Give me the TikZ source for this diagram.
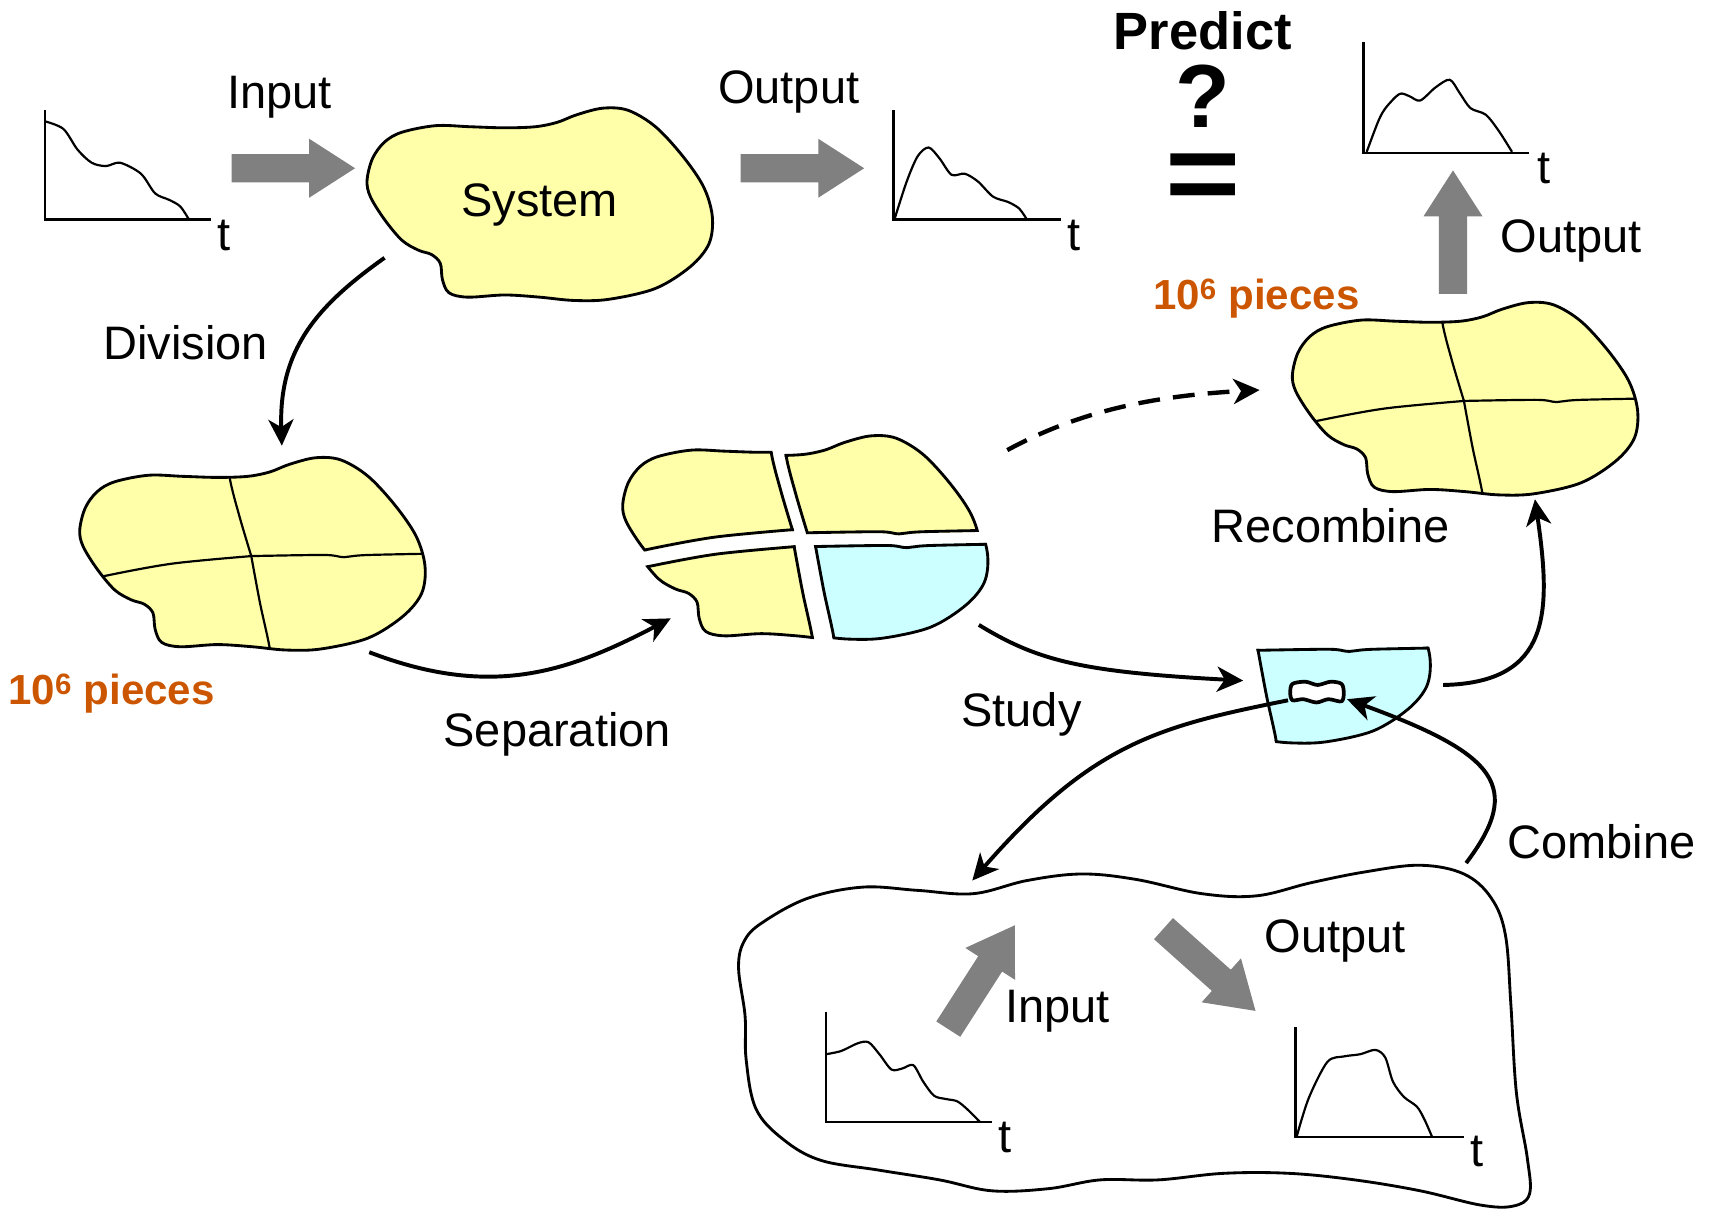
\documentclass[tikz,border=0pt]{standalone}
\usepackage{fontspec}
\setmainfont{Liberation Sans}
\usetikzlibrary{arrows.meta}
\definecolor{blobyellow}{RGB}{255,255,170}
\definecolor{blobcyan}{RGB}{204,255,255}
\definecolor{arrowgray}{RGB}{128,128,128}
\definecolor{piecesorange}{RGB}{204,85,0}
\newcommand\blobpath{plot[smooth cycle, tension=0.55] coordinates {(336,165) (341,145) (352,130) (368,121) (399,115) (430,116) (462,117) (490,116) (510,112) (528,105) (552,99) (575,101) (600,116) (625,143) (644,171) (652,198) (649,223) (632,244) (600,264) (557,274) (525,275) (494,272) (462,270) (428,272) (411,268) (405,256) (403,241) (395,233) (383,229) (368,220) (352,201) (339,180)}}
\newcommand\cutVtop{plot[smooth] coordinates {(466,60) (473,116) (482,152) (493,189)}}
\newcommand\cutVbot{plot[smooth] coordinates {(493,189) (501,232) (510,274) (514,310)}}
\newcommand\cutHleft{plot[smooth] coordinates {(300,221) (355,208) (420,196) (493,189)}}
\newcommand\cutHright{plot[smooth] coordinates {(493,189) (560,188) (578,190) (600,188) (700,186)}}
\newcommand\clipTL{\clip plot[smooth] coordinates {(466,60) (473,116) (482,152) (493,189)} -- plot[smooth] coordinates {(493,189) (420,196) (355,208) (300,221)} -- (250,221) -- (250,40) -- (466,40) -- cycle;}
\newcommand\clipTR{\clip plot[smooth] coordinates {(466,60) (473,116) (482,152) (493,189)} -- plot[smooth] coordinates {(493,189) (560,188) (578,190) (600,188) (700,186)} -- (720,186) -- (720,40) -- (466,40) -- cycle;}
\newcommand\clipBL{\clip plot[smooth] coordinates {(300,221) (355,208) (420,196) (493,189)} -- plot[smooth] coordinates {(493,189) (501,232) (510,274) (514,310)} -- (250,310) -- cycle;}
\newcommand\clipBR{\clip plot[smooth] coordinates {(493,189) (501,232) (510,274) (514,310)} -- (720,310) -- (720,186) -- plot[smooth] coordinates {(700,186) (600,188) (578,190) (560,188) (493,189)} -- cycle;}
\newcommand\wholeblob[2]{%
  \begin{scope}[shift={#1}]
    \begin{scope}
      \clip \blobpath;
      \fill[#2] \blobpath;
      \draw[cutline] \cutVtop; \draw[cutline] \cutVbot;
      \draw[cutline] \cutHleft; \draw[cutline] \cutHright;
    \end{scope}
    \draw[outline] \blobpath;
  \end{scope}}
% #1 shift, #2 clip macro, #3 fill, #4 first cut, #5 second cut
\newcommand\piece[5]{%
  \begin{scope}[shift={#1}]
    #2
    \begin{scope}
      \clip \blobpath;
      \fill[#3] \blobpath;
      \draw[cutedge] #4; \draw[cutedge] #5;
    \end{scope}
    \draw[outline] \blobpath;
  \end{scope}}
\begin{document}
\begin{tikzpicture}[x=1pt,y=-1pt,
  lbl/.style={font=\fontsize{43}{50}\selectfont, anchor=base, inner sep=0pt},
  orangelbl/.style={font=\fontsize{38.5}{46}\selectfont\bfseries, text=piecesorange, anchor=base, inner sep=0pt},
  outline/.style={line width=2.6pt, line join=round},
  cutline/.style={line width=2pt},
  cutedge/.style={line width=5.2pt},
  axis/.style={line width=2.2pt},
  sig/.style={line width=2pt, line join=round},
  conn/.style={line width=3.6pt, -{Stealth[length=24pt,width=23pt,inset=7pt]}},
  dashconn/.style={line width=4pt, dash pattern=on 20pt off 12pt, -{Stealth[length=24pt,width=23pt,inset=7pt]}},
  blockarrow/.pic={\fill[arrowgray] (0,-13) -- (71,-13) -- (71,-27) -- (113,0) -- (71,27) -- (71,13) -- (0,13) -- cycle;}
]
\useasboundingbox (0,0) rectangle (1568,1106);

% ---------- top row ----------
% input signal
\draw[axis] (41,101) -- (41,201) -- (193,201);
\draw[sig] plot[smooth] coordinates {(41,111) (58,118) (71,137) (84,149) (97,152) (110,149) (129,159) (142,177) (155,183) (165,189) (173,201)};
\node[lbl] (t1) at (205,229) {t};
\node[lbl] (in1) at (256,99) {Input};
\pic (ba1) at (212,154) {blockarrow};

% system
\fill[blobyellow] \blobpath;
\draw[outline] \blobpath;
\node[lbl] (system) at (494,198) {System};

\node[lbl] (out1) at (722,95) {Output};
\pic (ba2) at (678,154) {blockarrow};

% output signal
\draw[axis] (818,101) -- (818,201) -- (971,201);
\draw[sig] plot[smooth] coordinates {(819,200) (830,166) (840,143) (850,135) (860,145) (871,160) (883,159) (895,166) (909,180) (923,185) (933,191) (940,201)};
\node[lbl] (t2) at (983,229) {t};

% predict
\node[anchor=base, inner sep=0pt, font=\fontsize{48}{56}\selectfont\bfseries] (predict) at (1101,45) {Predict};
\node[anchor=base, inner sep=0pt, font=\fontsize{82}{90}\selectfont\bfseries] (qmark) at (1101,117) {?};
\node[anchor=base, inner sep=0pt, font=\fontsize{118}{120}\selectfont\bfseries] (equal) at (1101,194) {\raisebox{0pt}[53pt][0pt]{\scalebox{1}[0.86]{=}}};

% predicted output signal
\draw[axis] (1248,38) -- (1248,140) -- (1400,140);
\draw[sig] plot[smooth] coordinates {(1251,139) (1262,110) (1269,98) (1281,86) (1290,88) (1300,92) (1314,80) (1327,73) (1336,85) (1346,99) (1360,105) (1372,120) (1384,139)};
\node[lbl] (t3) at (1413,168) {t};
\pic[rotate=90] (ba3) at (1330,269) {blockarrow};
\node[lbl] (out2) at (1438,231) {Output};
\node[orangelbl] (pieces2) at (1150,283) {10\textsuperscript{6} pieces};

% recombined blob
\wholeblob{(847,178)}{blobyellow}
\node[lbl] (recombine) at (1218,497) {Recombine};

% ---------- divided blob ----------
\wholeblob{(-263,320)}{blobyellow}
\node[orangelbl] (pieces1) at (102,645) {10\textsuperscript{6} pieces};

% ---------- separated blob ----------
\piece{(234,297)}{\clipTL}{blobyellow}{\cutVtop}{\cutHleft}
\piece{(245,300)}{\clipTR}{blobyellow}{\cutVtop}{\cutHright}
\piece{(235,310)}{\clipBL}{blobyellow}{\cutHleft}{\cutVbot}
\piece{(252,310)}{\clipBR}{blobcyan}{\cutVbot}{\cutHright}

% ---------- studied piece ----------
\piece{(657,405)}{\clipBR}{blobcyan}{\cutVbot}{\cutHright}
\draw[line width=3.4pt, fill=white, line join=round] plot[smooth cycle, tension=0.5] coordinates {(1183,626) (1195,624) (1206,627) (1218,624) (1228,626) (1230,634) (1228,642) (1216,640) (1205,643) (1193,640) (1183,641) (1181,634)};

% ---------- bottom blob ----------
\draw[outline] plot[smooth cycle, tension=0.6] coordinates {(700,843) (740,822) (790,812) (840,815) (891,818) (940,806) (990,800) (1040,805) (1100,818) (1150,820) (1200,808) (1250,798) (1300,792) (1340,800) (1365,822) (1378,856) (1383,920) (1388,1000) (1398,1060) (1400,1093) (1385,1104) (1355,1103) (1300,1090) (1240,1080) (1180,1074) (1120,1074) (1060,1080) (1007,1080) (960,1088) (908,1090) (860,1080) (804,1071) (751,1062) (717,1043) (692,1015) (683,970) (682,930) (676,885) (682,860)};
\draw[axis] (756,926) -- (756,1027) -- (908,1027);
\draw[sig] plot[smooth] coordinates {(756,965) (770,962) (785,955) (795,954) (805,965) (816,979) (826,978) (836,975) (845,990) (855,1003) (866,1006) (876,1008) (885,1015) (897,1027)};
\node[lbl] (t4) at (920,1055) {t};
\draw[axis] (1186,940) -- (1186,1041) -- (1340,1041);
\draw[sig] plot[smooth] coordinates {(1187,1040) (1198,1005) (1215,972) (1230,967) (1245,965) (1259,961) (1268,968) (1275,990) (1285,1004) (1297,1013) (1304,1025) (1311,1041)};
\node[lbl] (t5) at (1352,1068) {t};
\pic[rotate=57.3] (ba4) at (868,942) {blockarrow};
\node[lbl] (in2) at (968,936) {Input};
\pic[rotate=-41.8] (ba5) at (1065,850) {blockarrow};
\node[lbl] (out3) at (1222,872) {Output};

% ---------- connectors ----------
\coordinate (divS) at (352,236);
\coordinate (divE) at (258,408);
\draw[conn] (divS) .. controls (290,280) and (255,320) .. (divE);
\node[lbl] (division) at (170,329) {Division};

\coordinate (sepS) at (338,597);
\coordinate (sepE) at (614,566);
\draw[conn] (sepS) .. controls (450,640) and (520,615) .. (sepE);
\node[lbl] (separation) at (510,683) {Separation};

\coordinate (dashS) at (922,412);
\coordinate (dashE) at (1153,357);
\draw[dashconn] (dashS) .. controls (990,375) and (1060,362) .. (dashE);

\coordinate (studyS) at (896,572);
\coordinate (studyE) at (1138,623);
\draw[conn] (studyS) .. controls (950,605) and (990,615) .. (studyE);
\node[lbl] (study) at (935,665) {Study};

\coordinate (recS) at (1321,627);
\coordinate (recE) at (1405,457);
\draw[conn] (recS) .. controls (1420,625) and (1420,560) .. (recE);

\coordinate (downS) at (1179,641);
\coordinate (downE) at (890,806);
\draw[conn] (downS) .. controls (1060,665) and (1000,680) .. (downE);

\coordinate (combS) at (1342,790);
\coordinate (combE) at (1233,640);
\draw[conn] (combS) .. controls (1395,720) and (1370,690) .. (combE);
\node[lbl] (combine) at (1466,786) {Combine};
\end{tikzpicture}
\end{document}
